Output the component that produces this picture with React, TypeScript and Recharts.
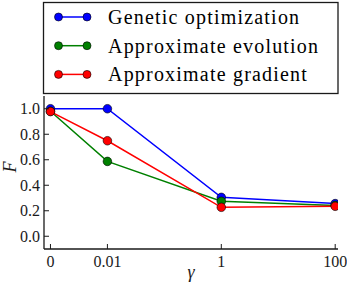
import React from 'react';
import { LineChart, Line, XAxis, YAxis, Legend } from 'recharts';

const categories = ['0', '0.01', '1', '100'];
// matplotlib-style log axis: "0" is drawn one decade below 0.01
const gammaPositions = [0.001, 0.01, 1, 100];
const geneticOptimization = [1.0, 1.0, 0.305, 0.256];
const approximateEvolution = [0.98, 0.587, 0.274, 0.242];
const approximateGradient = [0.978, 0.749, 0.227, 0.235];
const yTicks = [0, 0.2, 0.4, 0.6, 0.8, 1.0];
const seriesNames = ['Genetic optimization', 'Approximate evolution', 'Approximate gradient'];
const seriesKeys = ['genetic', 'evolution', 'gradient'];
const seriesColors = ['#0000ff', '#008000', '#ff0000'];

const data = categories.map((c, i) => ({
  label: c,
  gamma: gammaPositions[i],
  genetic: geneticOptimization[i],
  evolution: approximateEvolution[i],
  gradient: approximateGradient[i],
}));

const FONT = '"Liberation Serif", serif';
const INK = '#1a1a1a';
const TICK_LEN = 5;
const textStyle = { fontFamily: FONT };

const BottomTick = (props: any) => {
  const { x, y, payload } = props;
  const idx = gammaPositions.indexOf(payload.value);
  return (
    <g>
      <line x1={x} x2={x} y1={y} y2={y - TICK_LEN} stroke={INK} strokeWidth={1} />
      <text x={x} y={y + 12} textAnchor="middle" dominantBaseline="central" style={textStyle} fontSize={16} fill={INK}>
        {idx >= 0 ? categories[idx] : ''}
      </text>
    </g>
  );
};

const TopTick = (props: any) => {
  const { x, y } = props;
  return <line x1={x} x2={x} y1={y} y2={y + TICK_LEN} stroke={INK} strokeWidth={1} />;
};

const LeftTick = (props: any) => {
  const { x, y, payload } = props;
  return (
    <g>
      <line x1={x} x2={x + TICK_LEN} y1={y} y2={y} stroke={INK} strokeWidth={1} />
      <text x={x - 4} y={y} textAnchor="end" dominantBaseline="central" style={textStyle} fontSize={16} fill={INK}>
        {Number(payload.value).toFixed(1)}
      </text>
    </g>
  );
};

const RightTick = (props: any) => {
  const { x, y } = props;
  return <line x1={x} x2={x - TICK_LEN} y1={y} y2={y} stroke={INK} strokeWidth={1} />;
};

const LegendBox = (props: any) => {
  const payload = (props.payload || []) as any[];
  const ordered = seriesNames
    .map((n) => payload.find((p: any) => p.value === n))
    .filter(Boolean) as any[];
  return (
    <svg width={347} height={96} style={{ display: 'block' }}>
      <rect x={43.5} y={2.5} width={294.5} height={91} fill="#fff" stroke={INK} strokeWidth={1.3} />
      {ordered.map((entry: any, i: number) => {
        const cy = 17 + i * 28.7;
        const color = entry.color;
        return (
          <g key={entry.value}>
            <line x1={58.5} x2={87} y1={cy} y2={cy} stroke={color} strokeWidth={1.5} />
            <circle cx={58.5} cy={cy} r={4} fill={color} stroke="#000" strokeWidth={0.6} />
            <circle cx={87} cy={cy} r={4} fill={color} stroke="#000" strokeWidth={0.6} />
            <text x={108} y={cy} dominantBaseline="central" style={{ fontFamily: FONT, letterSpacing: '1.2px' }} fontSize={20} fill="#000">
              {entry.value}
            </text>
          </g>
        );
      })}
    </svg>
  );
};

export default function App() {
  const axisLine = { stroke: INK, strokeWidth: 1.3 };
  return (
    <div style={{ position: 'absolute', left: 0, top: 0, width: 347, height: 284, background: '#fff' }}>
      <LineChart width={347} height={284} data={data} margin={{ top: 96, right: 9, bottom: 0, left: 0 }}>
        <XAxis
          xAxisId="bottom"
          dataKey="gamma"
          type="number"
          scale="log"
          domain={[0.00077, 112]}
          allowDataOverflow
          ticks={gammaPositions}
          interval={0}
          height={35}
          tickSize={0}
          tickMargin={0}
          tickLine={false}
          axisLine={axisLine}
          tick={<BottomTick />}
          label={{ value: 'γ', position: 'insideBottom', offset: 6, style: { fontFamily: FONT, fontStyle: 'italic' }, fontSize: 18, fill: INK }}
        />
        <XAxis
          xAxisId="top"
          orientation="top"
          dataKey="gamma"
          type="number"
          scale="log"
          domain={[0.00077, 112]}
          allowDataOverflow
          ticks={gammaPositions}
          interval={0}
          height={0}
          tickSize={0}
          tickMargin={0}
          tickLine={false}
          axisLine={axisLine}
          tick={<TopTick />}
        />
        <YAxis
          yAxisId="left"
          type="number"
          domain={[-0.1, 1.1]}
          ticks={yTicks}
          interval={0}
          width={44}
          tickSize={0}
          tickMargin={0}
          tickLine={false}
          axisLine={axisLine}
          tick={<LeftTick />}
          label={{ value: 'F', angle: -90, position: 'insideLeft', offset: 10, style: { fontFamily: FONT, fontStyle: 'italic' }, fontSize: 18, fill: INK }}
        />
        <YAxis
          yAxisId="right"
          orientation="right"
          type="number"
          domain={[-0.1, 1.1]}
          ticks={yTicks}
          interval={0}
          width={0}
          tickSize={0}
          tickMargin={0}
          tickLine={false}
          axisLine={axisLine}
          tick={<RightTick />}
        />
        <Legend
          layout="horizontal"
          verticalAlign="middle"
          align="center"
          wrapperStyle={{ top: 0, left: 0, width: 347, height: 96 }}
          content={<LegendBox />}
        />
        {seriesKeys.map((k, i) => (
          <Line
            key={k}
            xAxisId="bottom"
            yAxisId="left"
            type="linear"
            dataKey={k}
            name={seriesNames[i]}
            stroke={seriesColors[i]}
            strokeWidth={1.5}
            dot={{ r: 4.3, fill: seriesColors[i], stroke: '#000', strokeWidth: 0.6 }}
            activeDot={false}
            isAnimationActive={false}
          />
        ))}
      </LineChart>
    </div>
  );
}
